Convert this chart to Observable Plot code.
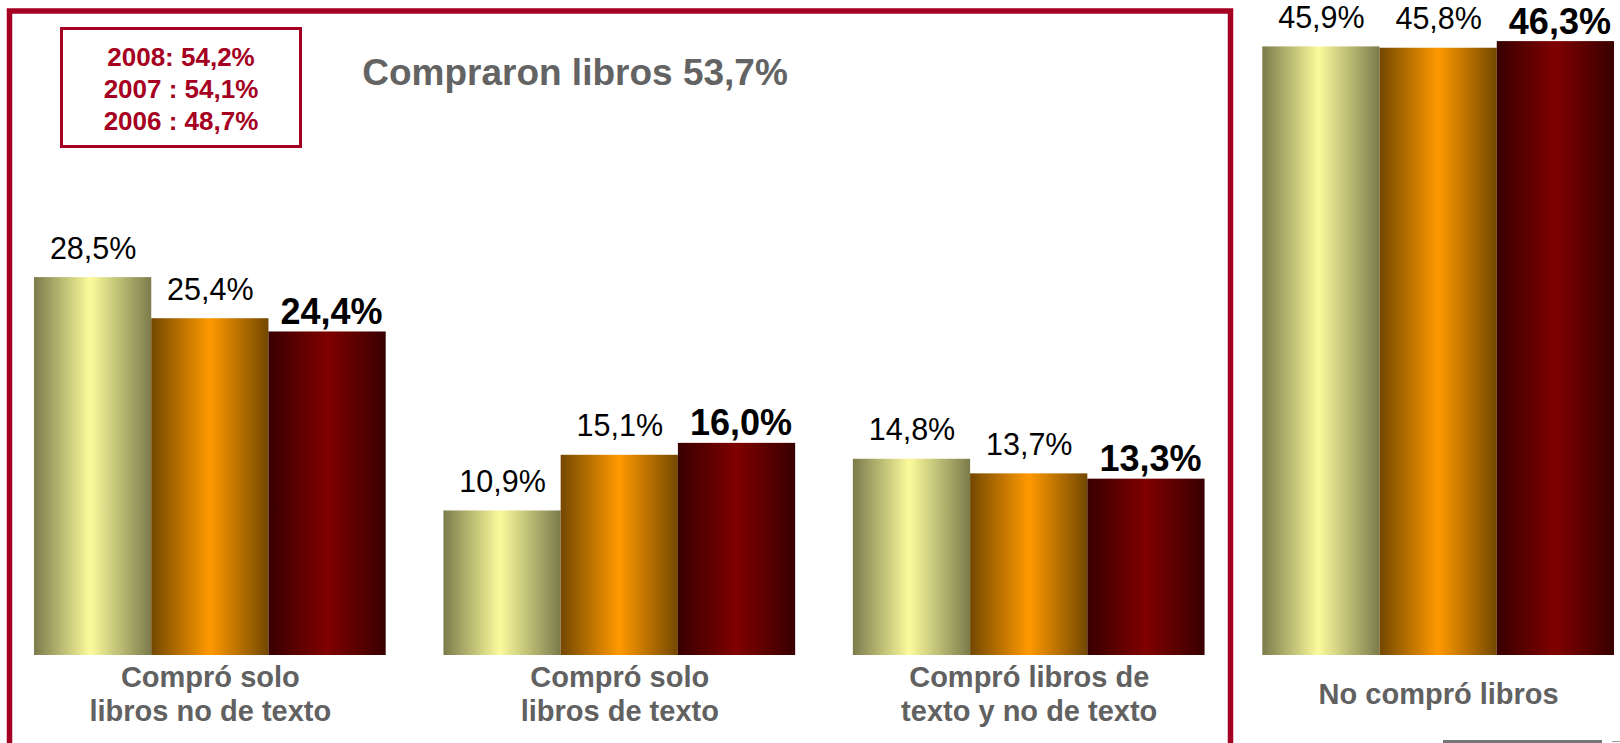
<!DOCTYPE html>
<html>
<head>
<meta charset="utf-8">
<script src="https://cdn.jsdelivr.net/npm/d3@7"></script>
<script src="https://cdn.jsdelivr.net/npm/@observablehq/plot@0.6"></script>
<style>
  html, body { margin: 0; padding: 0; background: #ffffff; }
  #chart { position: relative; width: 1620px; height: 743px; overflow: hidden; }
  #chart svg { display: block; }
</style>
</head>
<body>
<div id="chart"></div>
<script>
// ---- Data ----
const categories = [
  "Compró solo\nlibros no de texto",
  "Compró solo\nlibros de texto",
  "Compró libros de\ntexto y no de texto",
  "No compró libros"
];
const series = ["2007", "2008", "2009"];
const values2007 = [28.5, 10.9, 14.8, 45.9];
const values2008 = [25.4, 15.1, 13.7, 45.8];
const values2009 = [24.4, 16.0, 13.3, 46.3];
const seriesValues = [values2007, values2008, values2009];
const titleText = "Compraron libros 53,7%";
const previousYears = ["2008: 54,2%", "2007 : 54,1%", "2006 : 48,7%"];

const data = categories.flatMap((c, i) =>
  series.map((s, j) => ({category: c, series: s, value: seriesValues[j][i]}))
);
const fmt = v => d3.format(".1f")(v).replace(".", ",") + "%";
const FONT = "'Liberation Sans', Arial, sans-serif";
const current = series[series.length - 1];

const chart = Plot.plot({
  width: 1620,
  height: 743,
  marginLeft: 34,
  marginRight: 6,
  marginTop: 0,
  marginBottom: 88,
  style: {fontFamily: FONT, background: "transparent", overflow: "visible"},
  fx: {domain: categories, paddingInner: 0.141, paddingOuter: 0, axis: null, round: false},
  x: {domain: series, padding: 0, axis: null, round: false},
  y: {domain: [0, 49.4], axis: null},
  color: {type: "ordinal", domain: series, range: ["url(#grad0)", "url(#grad1)", "url(#grad2)"]},
  marks: [
    Plot.barY(data, {fx: "category", x: "series", y: "value", fill: "series", inset: 0}),
    Plot.text(data.filter(d => d.series !== current), {
      fx: "category", x: "series", y: "value", text: d => fmt(d.value),
      dy: -19, lineAnchor: "bottom", fontSize: 30.5, fill: "#000000"
    }),
    Plot.text(data.filter(d => d.series === current), {
      fx: "category", x: "series", y: "value", text: d => fmt(d.value),
      dy: -8, dx: 4, lineAnchor: "bottom", fontSize: 36, fontWeight: "bold", fill: "#000000"
    }),
    Plot.text(categories, {
      fx: d => d, text: d => d, frameAnchor: "bottom", dy: 38,
      lineAnchor: "middle", lineHeight: 1.17, fontSize: 29, fontWeight: "bold", fill: "#616161"
    })
  ]
});

document.getElementById("chart").appendChild(chart);

// ---- Gradients, frames and decorative text ----
const svg = d3.select(chart);
const defs = svg.insert("defs", ":first-child");
const gradStops = [
  [["0%", "#7b7b4c"], ["48%", "#fbfb9c"], ["100%", "#7b7b4c"]],
  [["0%", "#734800"], ["50%", "#ff9900"], ["100%", "#734800"]],
  [["0%", "#380000"], ["50%", "#800000"], ["100%", "#380000"]]
];
gradStops.forEach((stops, k) => {
  const g = defs.append("linearGradient").attr("id", "grad" + k)
    .attr("x1", "0").attr("x2", "1").attr("y1", "0").attr("y2", "0");
  stops.forEach(([o, c]) => g.append("stop").attr("offset", o).attr("stop-color", c));
});

const deco = svg.append("g");
// Outer red frame (open at bottom)
deco.append("path")
  .attr("d", "M9.5,760 L9.5,11 L1230.5,11 L1230.5,760")
  .attr("fill", "none").attr("stroke", "#a50021").attr("stroke-width", 5.5);
// Inner box
deco.append("rect")
  .attr("x", 61.5).attr("y", 28.5).attr("width", 239).attr("height", 118)
  .attr("fill", "none").attr("stroke", "#a50021").attr("stroke-width", 3);
previousYears.forEach((t, i) => {
  deco.append("text")
    .attr("x", 181).attr("y", 66 + i * 32)
    .attr("text-anchor", "middle")
    .attr("font-family", FONT).attr("font-size", 26).attr("font-weight", "bold")
    .attr("fill", "#a50021").text(t);
});
// Title
deco.append("text")
  .attr("x", 575).attr("y", 85)
  .attr("text-anchor", "middle")
  .attr("font-family", FONT).attr("font-size", 37).attr("font-weight", "bold")
  .attr("fill", "#636363").text(titleText);
// Bottom-right gray line
deco.append("rect").attr("x", 1443).attr("y", 740).attr("width", 159).attr("height", 3).attr("fill", "#777777");
deco.append("rect").attr("x", 1612).attr("y", 741).attr("width", 8).attr("height", 1).attr("fill", "#999999");
</script>
</body>
</html>
